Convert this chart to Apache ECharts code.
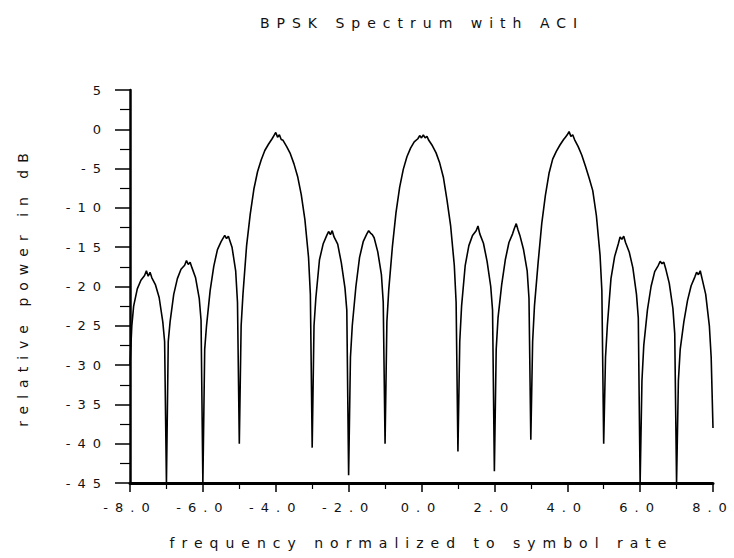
<!DOCTYPE html>
<html>
<head>
<meta charset="utf-8">
<script src="https://cdn.jsdelivr.net/npm/echarts@6/dist/echarts.min.js"></script>
<style>
  html, body { margin: 0; padding: 0; background: #fff; }
  #chart { width: 734px; height: 558px; }
  #chart text { letter-spacing: 7px; }
</style>
</head>
<body>
<div id="chart"></div>
<script>
// Frequency normalized to symbol rate (x) and relative power in dB (y)
const freq = [
  -8.0, -7.95, -7.9, -7.8, -7.7, -7.6, -7.55, -7.5, -7.45, -7.4, -7.3, -7.2, -7.1, -7.05, -7.0,
  -6.95, -6.9, -6.8, -6.7, -6.6, -6.5, -6.45, -6.4, -6.35, -6.3, -6.2, -6.1, -6.05, -6.0,
  -5.95, -5.9, -5.8, -5.7, -5.6, -5.5, -5.4, -5.35, -5.3, -5.2, -5.1, -5.05, -5.0,
  -4.95, -4.9, -4.8, -4.7, -4.6, -4.5, -4.4, -4.3, -4.2, -4.1, -4.05, -4.0, -3.95, -3.9, -3.85, -3.8, -3.7, -3.6, -3.5, -3.4, -3.3, -3.2, -3.1, -3.05, -3.0,
  -2.95, -2.9, -2.8, -2.7, -2.6, -2.55, -2.5, -2.45, -2.4, -2.3, -2.2, -2.1, -2.05, -2.0,
  -1.95, -1.9, -1.8, -1.7, -1.6, -1.5, -1.45, -1.4, -1.35, -1.3, -1.2, -1.1, -1.05, -1.0,
  -0.95, -0.9, -0.8, -0.7, -0.6, -0.5, -0.4, -0.3, -0.2, -0.1, -0.05, 0.0, 0.05, 0.1, 0.15, 0.2, 0.3, 0.4, 0.5, 0.6, 0.7, 0.8, 0.9, 0.95, 1.0,
  1.05, 1.1, 1.2, 1.3, 1.4, 1.5, 1.55, 1.6, 1.7, 1.8, 1.9, 1.95, 2.0,
  2.05, 2.1, 2.2, 2.3, 2.4, 2.5, 2.55, 2.6, 2.65, 2.7, 2.8, 2.9, 2.95, 3.0,
  3.05, 3.1, 3.2, 3.3, 3.4, 3.5, 3.6, 3.7, 3.8, 3.9, 3.95, 4.0, 4.05, 4.1, 4.15, 4.2, 4.3, 4.4, 4.5, 4.6, 4.7, 4.8, 4.9, 4.95, 5.0,
  5.05, 5.1, 5.2, 5.3, 5.4, 5.45, 5.5, 5.55, 5.6, 5.7, 5.8, 5.9, 5.95, 6.0,
  6.05, 6.1, 6.2, 6.3, 6.4, 6.5, 6.55, 6.6, 6.65, 6.7, 6.8, 6.9, 6.95, 7.0,
  7.05, 7.1, 7.2, 7.3, 7.4, 7.5, 7.55, 7.6, 7.65, 7.7, 7.8, 7.9, 7.95, 8.0
];
const powerDb = [
  -30, -25, -22.5, -20.3, -19.2, -18.6, -18.0, -18.7, -18.2, -18.9, -19.8, -21.4, -24.5, -27, -45,
  -27, -24.5, -21, -19, -17.8, -17.3, -16.7, -17.2, -16.9, -17.6, -18.9, -21.5, -24.3, -45,
  -28, -25, -20.5, -17.4, -15.3, -14.3, -13.5, -13.9, -13.6, -15, -18, -22, -40,
  -25, -21, -14.8, -10.8, -7.6, -5.4, -3.9, -2.7, -1.9, -1.2, -0.8, -0.4, -1.0, -0.7, -1.3, -1.4, -2.2, -3.1, -4.4, -6.0, -8.3, -11.5, -16.3, -21, -40.5,
  -25, -21.5, -16.6, -14.6, -13.5, -13.0, -13.4, -12.9, -13.7, -14.6, -17, -20.2, -23, -44,
  -29, -25, -20, -16.3, -14.3, -13.3, -12.9, -13.2, -13.4, -13.8, -15.6, -18.5, -22, -40,
  -24.5, -20.5, -15, -10.6, -7.4, -5.1, -3.5, -2.4, -1.6, -1.2, -0.8, -1.1, -0.7, -1.1, -0.9, -1.4, -2.1, -3.0, -4.3, -6.1, -9.0, -12.3, -17.3, -22, -41,
  -27, -22.5, -17.3, -14.8, -13.5, -12.9, -12.3, -13.3, -14.5, -16.8, -20, -23, -43.5,
  -28, -24, -19.8, -16.6, -14.4, -13.3, -12.6, -12.0, -12.8, -13.5, -15.3, -18, -21.5, -39.5,
  -27, -22.5, -17, -12, -8.4, -5.6, -3.8, -2.8, -2.0, -1.3, -1.0, -0.7, -0.3, -0.9, -0.7, -1.3, -2.2, -3.3, -4.7, -6.2, -7.8, -11, -16, -20.5, -40,
  -29, -25, -19, -16.2, -14.6, -13.7, -14, -13.6, -14.4, -15.6, -17.6, -21, -24, -45,
  -32, -27.5, -23, -20, -18.1, -17.3, -16.8, -17.1, -16.9, -17.7, -19.6, -22.8, -26, -45,
  -32, -28, -24.5, -21.8, -19.9, -18.8, -18.2, -18.5, -18.0, -19.0, -21, -25, -29, -38
];
const titleText = 'BPSK Spectrum with ACI';
const xName = 'frequency normalized to symbol rate';
const yName = 'relative power in dB';

const chart = echarts.init(document.getElementById('chart'), null, { renderer: 'svg' });
const fontFam = '"DejaVu Sans", sans-serif';
chart.setOption({
  backgroundColor: '#ffffff',
  animation: false,
  title: {
    text: titleText,
    left: 417,
    top: 11,
    textAlign: 'center',
    textStyle: { fontSize: 14, fontWeight: 'normal', color: '#111', fontFamily: fontFam }
  },
  grid: { left: 130, right: 21, top: 90, bottom: 75, containLabel: false },
  xAxis: {
    type: 'value',
    min: -8, max: 8, interval: 2,
    name: xName,
    nameLocation: 'middle',
    nameGap: 53,
    nameTextStyle: { fontSize: 14, color: '#111', fontFamily: fontFam },
    axisLine: { onZero: false, lineStyle: { color: '#000', width: 3 } },
    axisTick: { show: true, length: 9, lineStyle: { color: '#000', width: 1.5 } },
    minorTick: { show: true, splitNumber: 2, length: 6, lineStyle: { color: '#000', width: 1.2 } },
    splitLine: { show: false },
    axisLabel: { margin: 18, fontSize: 13, color: '#111', fontFamily: fontFam,
                 formatter: v => v.toFixed(1) }
  },
  yAxis: {
    type: 'value',
    min: -45, max: 5, interval: 5,
    name: yName,
    nameLocation: 'middle',
    nameGap: 100,
    nameTextStyle: { fontSize: 14, color: '#111', fontFamily: fontFam },
    axisLine: { onZero: false, lineStyle: { color: '#000', width: 2.5 } },
    axisTick: { show: true, length: 15, lineStyle: { color: '#000', width: 1.5 } },
    minorTick: { show: true, splitNumber: 2, length: 10, lineStyle: { color: '#000', width: 1.2 } },
    splitLine: { show: false },
    axisLabel: { margin: 22, fontSize: 13, color: '#111', fontFamily: fontFam }
  },
  series: [{
    type: 'line',
    data: freq.map((f, i) => [f, powerDb[i]]),
    showSymbol: false,
    symbol: 'none',
    lineStyle: { color: '#000', width: 1.6 },
    clip: true
  }]
});
</script>
</body>
</html>
